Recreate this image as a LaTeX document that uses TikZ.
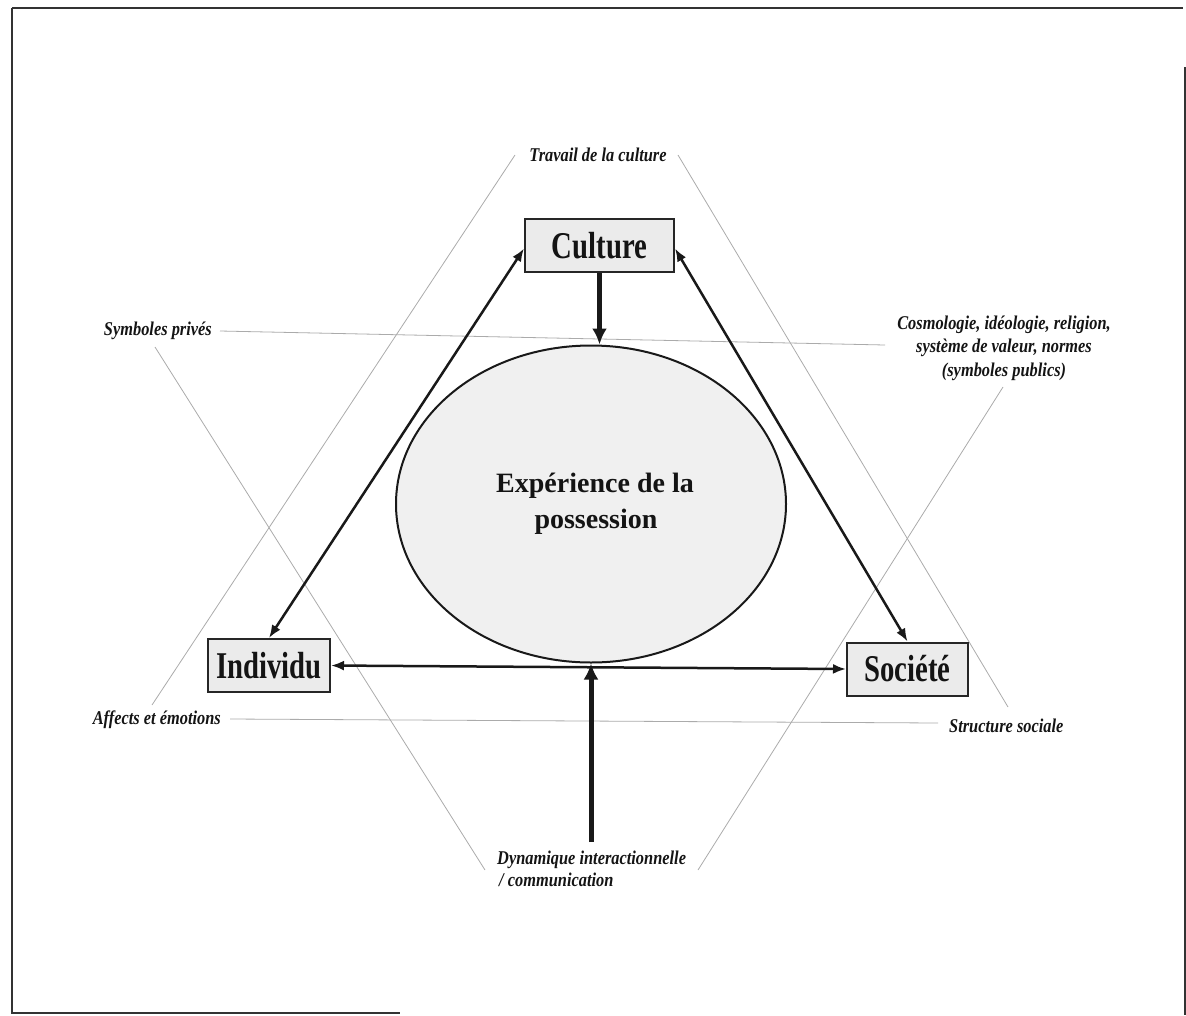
\documentclass[tikz,border=0pt]{standalone}
\usepackage{fontspec}
\setmainfont{Liberation Serif}
\newfontfamily\boxfont[FakeStretch=0.76]{Liberation Serif}
\newfontfamily\labfont[FakeStretch=0.84]{Liberation Serif}
\usetikzlibrary{shapes.geometric,arrows.meta}
\begin{document}
\begin{tikzpicture}[x=1pt,y=-1pt,
  boxnode/.style={draw=black!85,line width=2pt,fill=black!8,minimum height=53pt,inner sep=0pt,
    font=\boxfont\bfseries\fontsize{37.8}{44}\selectfont,text=black!92},
  lab/.style={font=\labfont\bfseries\itshape\fontsize{19.5}{23.5}\selectfont,text=black!92,inner sep=0pt},
  guide/.style={draw=black!33,line width=0.8pt},
  conn/.style={draw=black!90,line width=2.5pt,{Latex[length=13pt,width=10pt]}-{Latex[length=13pt,width=10pt]}},
  bigarrow/.style={draw=black!90,line width=5pt,-{Latex[length=16pt,width=15pt]}},
  framel/.style={draw=black!80,line width=2pt}]
\useasboundingbox (0,0) rectangle (1186,1015);
% page frame
\draw[framel] (12,8) -- (1183,8);
\draw[framel] (12,8) -- (12,1013) -- (400,1013);
\draw[framel] (1185,67) -- (1185,1015);
% guide triangles
\coordinate (u1) at (515,155);  \coordinate (u2) at (152,705);
\coordinate (u3) at (678,155);  \coordinate (u4) at (1008,707);
\coordinate (u5) at (230,719);  \coordinate (u6) at (938,723);
\coordinate (d1) at (220,331);  \coordinate (d2) at (885,345);
\coordinate (d3) at (155,347);  \coordinate (d4) at (485,870);
\coordinate (d5) at (1003,387); \coordinate (d6) at (698,870);
\draw[guide] (u1) -- (u2);
\draw[guide] (u3) -- (u4);
\draw[guide] (u5) -- (u6);
\draw[guide] (d1) -- (d2);
\draw[guide] (d3) -- (d4);
\draw[guide] (d5) -- (d6);
% central ellipse
\node[ellipse,draw=black!90,line width=2pt,fill=black!6,minimum width=390pt,minimum height=317pt,
  inner sep=0pt,align=center,text=black!92,font=\bfseries\fontsize{28}{36}\selectfont]
  (exp) at (591,504) {\hspace*{8pt}Expérience de la\\\hspace*{10pt}possession};
% boxes
\node[boxnode,minimum width=149pt] (culture) at (599.5,245.5) {Culture};
\node[boxnode,minimum width=122pt] (individu) at (269,665.5) {Individu};
\node[boxnode,minimum width=121pt] (societe) at (907.5,669) {Société};
% connectors
\draw[conn] ([yshift=-3pt]culture.west) -- (individu.north);
\draw[conn] ([yshift=-3pt]culture.east) -- (societe.north);
\draw[conn] (individu.east) -- (societe.west);
\draw[bigarrow] (culture.south) -- (culture.south |- exp.north);
\coordinate (dyn) at (591,842);
\draw[bigarrow] (dyn) -- (exp.south);
% labels
\node[lab] (tc) at (598,155) {Travail de la culture};
\node[lab,anchor=east] (sp) at (212,331) {Symboles privés};
\node[lab,align=center] (cos) at (1004,348) {Cosmologie, idéologie, religion,\\système de valeur, normes\\(symboles publics)};
\node[lab,anchor=east] (ae) at (221,720) {Affects et émotions};
\node[lab,anchor=west] (ss) at (949,726) {Structure sociale};
\node[lab,align=left,anchor=north west,font=\labfont\bfseries\itshape\fontsize{19.5}{21.5}\selectfont] (dy) at (497,851) {Dynamique interactionnelle\\\hspace*{2pt}/ communication};
\end{tikzpicture}
\end{document}
